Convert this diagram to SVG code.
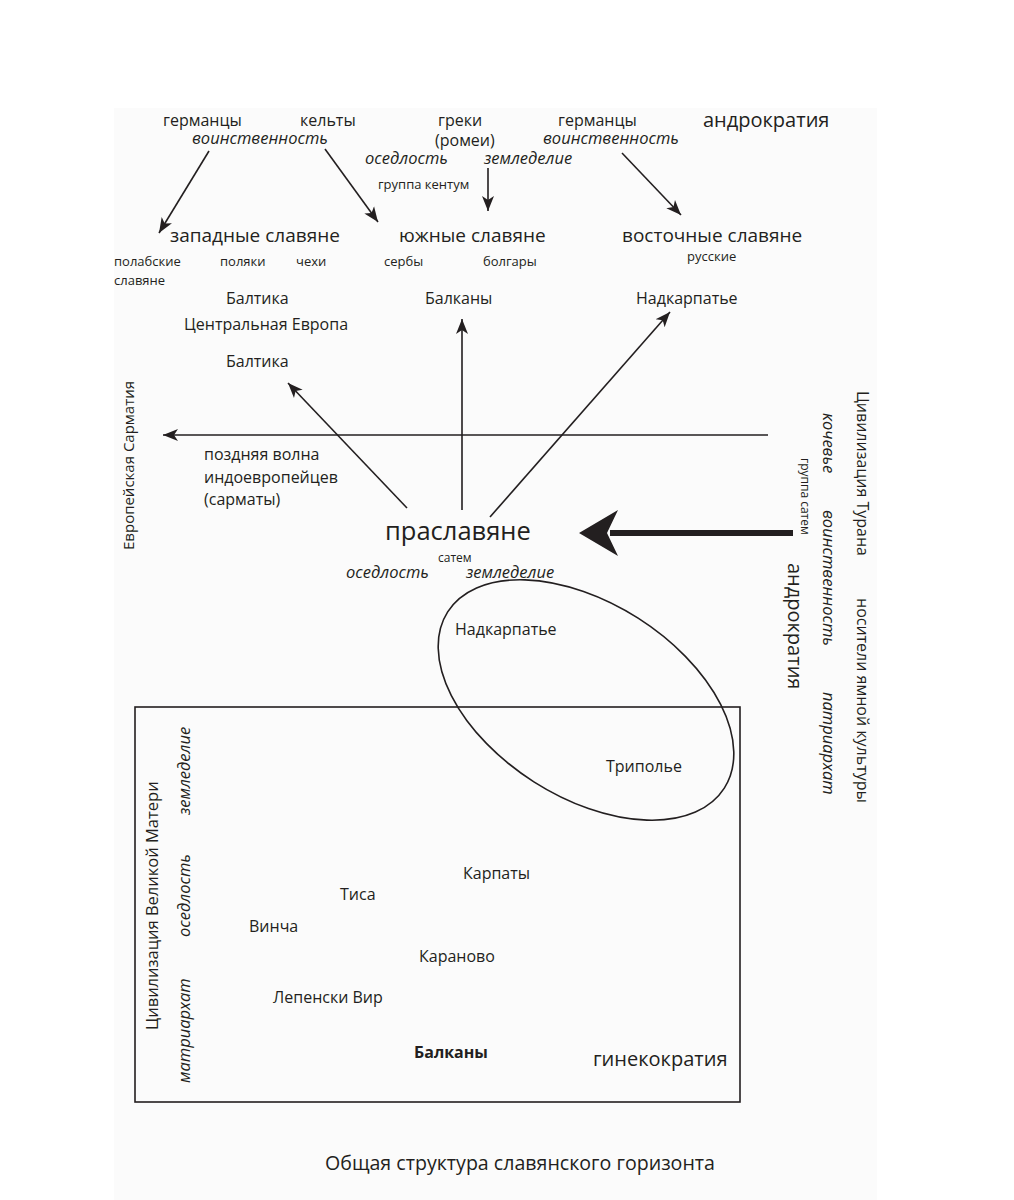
<svg xmlns="http://www.w3.org/2000/svg" width="1014" height="1200" viewBox="0 0 1014 1200">
<style>
text{font-family:"Open Sans","Noto Sans","Liberation Sans",sans-serif;fill:#231f20;font-size:16px}
.it{font-style:italic;font-size:16.5px}
.sm{font-size:13px}
.xs{font-size:12px}
.h{font-size:19px}
.big{font-size:20px}
.b{font-weight:bold}
.ln{stroke:#231f20;stroke-width:1.6;fill:none}
</style>
<defs>
<marker id="ah" markerUnits="userSpaceOnUse" markerWidth="16" markerHeight="14" viewBox="-15 -7 16 14" refX="0" refY="0" orient="auto">
<path d="M0,0 L-15,-6 L-11,0 L-15,6 Z" fill="#231f20"/>
</marker>
</defs>
<rect x="114" y="108" width="763" height="1092" fill="#fbfbfb"/>

<g id="connectors">
<line class="ln" x1="209" y1="151" x2="159" y2="233" marker-end="url(#ah)"/>
<line class="ln" x1="325" y1="149" x2="378" y2="222" marker-end="url(#ah)"/>
<line class="ln" x1="488" y1="168" x2="488" y2="211" marker-end="url(#ah)"/>
<line class="ln" x1="622" y1="153" x2="681" y2="215" marker-end="url(#ah)"/>
<line class="ln" x1="407" y1="508" x2="288" y2="383" marker-end="url(#ah)"/>
<line class="ln" x1="462" y1="510" x2="462" y2="319" marker-end="url(#ah)"/>
<line class="ln" x1="490" y1="517" x2="670" y2="312" marker-end="url(#ah)"/>
<line class="ln" x1="768" y1="435" x2="163" y2="435" marker-end="url(#ah)"/>
<line x1="793" y1="533" x2="610" y2="533" stroke="#231f20" stroke-width="6"/>
<path d="M579,533 L618,510 L607,533 L618,556 Z" fill="#231f20"/>
</g>

<g id="top-influences">
<text x="163" y="126">германцы</text>
<text x="300" y="126">кельты</text>
<text class="it" x="192" y="144">воинственность</text>
<text x="438" y="126">греки</text>
<text x="435" y="146">(ромеи)</text>
<text class="it" x="365" y="164">оседлость</text>
<text class="it" x="484" y="164">земледелие</text>
<text class="sm" x="378" y="189">группа кентум</text>
<text x="558" y="126">германцы</text>
<text class="it" x="543" y="144">воинственность</text>
<text class="big" x="703" y="127">андрократия</text>
</g>

<g id="west-slavs">
<text class="h" x="170" y="242">западные славяне</text>
<text class="sm" x="114" y="266">полабские</text>
<text class="sm" x="114" y="285">славяне</text>
<text class="sm" x="220" y="266">поляки</text>
<text class="sm" x="296" y="266">чехи</text>
<text x="226" y="304">Балтика</text>
<text x="184" y="330">Центральная Европа</text>
<text x="226" y="367">Балтика</text>
</g>

<g id="south-slavs">
<text class="h" x="399" y="242">южные славяне</text>
<text class="sm" x="384" y="266">сербы</text>
<text class="sm" x="483" y="266">болгары</text>
<text x="425" y="304">Балканы</text>
</g>

<g id="east-slavs">
<text class="h" x="622" y="242">восточные славяне</text>
<text class="sm" x="687" y="261">русские</text>
<text x="636" y="304">Надкарпатье</text>
</g>

<g id="sarmatia">
<text x="204" y="460">поздняя волна</text>
<text x="204" y="483">индоевропейцев</text>
<text x="204" y="505">(сарматы)</text>
<text transform="translate(134,550) rotate(-90)" style="font-size:15px">Европейская Сарматия</text>
</g>

<g id="proto-slavs">
<text x="385" y="540" style="font-size:25.5px">праславяне</text>
<text class="xs" x="438" y="562">сатем</text>
<text class="it" x="346" y="578">оседлость</text>
<text class="it" x="466" y="578">земледелие</text>
</g>

<g id="turan">
<text transform="translate(857,391) rotate(90)">Цивилизация Турана</text>
<text transform="translate(857,598) rotate(90)">носители ямной культуры</text>
<text class="it" transform="translate(823,413) rotate(90)">кочевье</text>
<text class="it" transform="translate(823,510) rotate(90)">воинственность</text>
<text class="it" transform="translate(823,692) rotate(90)">патриархат</text>
<text class="xs" transform="translate(801,458) rotate(90)">группа сатем</text>
<text class="big" transform="translate(788,563) rotate(90)">андрократия</text>
</g>

<g id="great-mother">
<rect class="ln" x="135" y="707" width="605" height="395"/>
<text transform="translate(158,1030) rotate(-90)" style="font-size:16.5px">Цивилизация Великой Матери</text>
<text class="it" transform="translate(190,815) rotate(-90)">земледелие</text>
<text class="it" transform="translate(190,937) rotate(-90)">оседлость</text>
<text class="it" transform="translate(190,1083) rotate(-90)">матриархат</text>
<text x="463" y="879">Карпаты</text>
<text x="340" y="900">Тиса</text>
<text x="249" y="932">Винча</text>
<text x="419" y="962">Караново</text>
<text x="273" y="1003">Лепенски Вир</text>
<text class="b" x="414" y="1058">Балканы</text>
<text class="big" x="593" y="1066">гинекократия</text>
</g>

<g id="nadkarpatye-tripolye">
<ellipse class="ln" cx="586" cy="700" rx="164" ry="97" transform="rotate(32.5 586 700)"/>
<text x="455" y="635">Надкарпатье</text>
<text x="606" y="772">Триполье</text>
</g>

<g id="caption">
<text x="325" y="1170" style="font-size:19.6px">Общая структура славянского горизонта</text>
</g>
</svg>
